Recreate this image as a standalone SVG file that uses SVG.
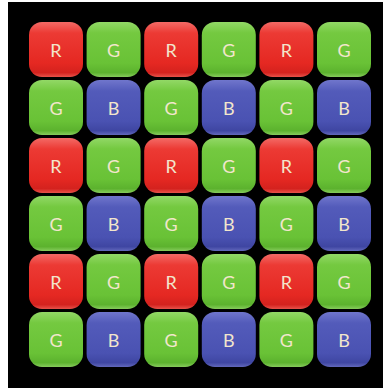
<svg xmlns="http://www.w3.org/2000/svg" width="383" height="388" viewBox="0 0 383 388">
<defs>
<linearGradient id="gR" x1="0" y1="0" x2="0" y2="1">
<stop offset="0" stop-color="#f36a66"/><stop offset="0.2" stop-color="#ec3a34"/><stop offset="0.75" stop-color="#e52822"/><stop offset="0.92" stop-color="#d4221e"/><stop offset="1" stop-color="#e8524a"/>
</linearGradient>
<linearGradient id="gG" x1="0" y1="0" x2="0" y2="1">
<stop offset="0" stop-color="#92d866"/><stop offset="0.2" stop-color="#74c940"/><stop offset="0.75" stop-color="#69c236"/><stop offset="0.92" stop-color="#5cb22e"/><stop offset="1" stop-color="#86cc5c"/>
</linearGradient>
<linearGradient id="gB" x1="0" y1="0" x2="0" y2="1">
<stop offset="0" stop-color="#7076cc"/><stop offset="0.2" stop-color="#535bba"/><stop offset="0.75" stop-color="#4a52b2"/><stop offset="0.92" stop-color="#3f46a2"/><stop offset="1" stop-color="#6268bc"/>
</linearGradient>
</defs>
<style>
.R rect{fill:url(#gR);}
.G rect{fill:url(#gG);}
.B rect{fill:url(#gB);}
text{font-family:Lato,"DejaVu Sans",sans-serif;font-weight:400;font-size:18px;fill:#f2e6cc;text-anchor:middle;dominant-baseline:central;}
</style>
<rect x="0" y="0" width="383" height="388" fill="#ffffff"/>
<rect x="8" y="2" width="375" height="386" fill="#000000"/>
<g id="connectors"/>
<g id="r1c1" class="R"><rect x="29" y="22" width="54" height="55" rx="13"/><text x="56" y="49.5">R</text></g>
<g id="r1c2" class="G"><rect x="86.6" y="22" width="54" height="55" rx="13"/><text x="113.6" y="49.5">G</text></g>
<g id="r1c3" class="R"><rect x="144.2" y="22" width="54" height="55" rx="13"/><text x="171.2" y="49.5">R</text></g>
<g id="r1c4" class="G"><rect x="201.8" y="22" width="54" height="55" rx="13"/><text x="228.8" y="49.5">G</text></g>
<g id="r1c5" class="R"><rect x="259.4" y="22" width="54" height="55" rx="13"/><text x="286.4" y="49.5">R</text></g>
<g id="r1c6" class="G"><rect x="317" y="22" width="54" height="55" rx="13"/><text x="344" y="49.5">G</text></g>

<g id="r2c1" class="G"><rect x="29" y="80" width="54" height="55" rx="13"/><text x="56" y="107.5">G</text></g>
<g id="r2c2" class="B"><rect x="86.6" y="80" width="54" height="55" rx="13"/><text x="113.6" y="107.5">B</text></g>
<g id="r2c3" class="G"><rect x="144.2" y="80" width="54" height="55" rx="13"/><text x="171.2" y="107.5">G</text></g>
<g id="r2c4" class="B"><rect x="201.8" y="80" width="54" height="55" rx="13"/><text x="228.8" y="107.5">B</text></g>
<g id="r2c5" class="G"><rect x="259.4" y="80" width="54" height="55" rx="13"/><text x="286.4" y="107.5">G</text></g>
<g id="r2c6" class="B"><rect x="317" y="80" width="54" height="55" rx="13"/><text x="344" y="107.5">B</text></g>

<g id="r3c1" class="R"><rect x="29" y="138" width="54" height="55" rx="13"/><text x="56" y="165.5">R</text></g>
<g id="r3c2" class="G"><rect x="86.6" y="138" width="54" height="55" rx="13"/><text x="113.6" y="165.5">G</text></g>
<g id="r3c3" class="R"><rect x="144.2" y="138" width="54" height="55" rx="13"/><text x="171.2" y="165.5">R</text></g>
<g id="r3c4" class="G"><rect x="201.8" y="138" width="54" height="55" rx="13"/><text x="228.8" y="165.5">G</text></g>
<g id="r3c5" class="R"><rect x="259.4" y="138" width="54" height="55" rx="13"/><text x="286.4" y="165.5">R</text></g>
<g id="r3c6" class="G"><rect x="317" y="138" width="54" height="55" rx="13"/><text x="344" y="165.5">G</text></g>

<g id="r4c1" class="G"><rect x="29" y="196" width="54" height="55" rx="13"/><text x="56" y="223.5">G</text></g>
<g id="r4c2" class="B"><rect x="86.6" y="196" width="54" height="55" rx="13"/><text x="113.6" y="223.5">B</text></g>
<g id="r4c3" class="G"><rect x="144.2" y="196" width="54" height="55" rx="13"/><text x="171.2" y="223.5">G</text></g>
<g id="r4c4" class="B"><rect x="201.8" y="196" width="54" height="55" rx="13"/><text x="228.8" y="223.5">B</text></g>
<g id="r4c5" class="G"><rect x="259.4" y="196" width="54" height="55" rx="13"/><text x="286.4" y="223.5">G</text></g>
<g id="r4c6" class="B"><rect x="317" y="196" width="54" height="55" rx="13"/><text x="344" y="223.5">B</text></g>

<g id="r5c1" class="R"><rect x="29" y="254" width="54" height="55" rx="13"/><text x="56" y="281.5">R</text></g>
<g id="r5c2" class="G"><rect x="86.6" y="254" width="54" height="55" rx="13"/><text x="113.6" y="281.5">G</text></g>
<g id="r5c3" class="R"><rect x="144.2" y="254" width="54" height="55" rx="13"/><text x="171.2" y="281.5">R</text></g>
<g id="r5c4" class="G"><rect x="201.8" y="254" width="54" height="55" rx="13"/><text x="228.8" y="281.5">G</text></g>
<g id="r5c5" class="R"><rect x="259.4" y="254" width="54" height="55" rx="13"/><text x="286.4" y="281.5">R</text></g>
<g id="r5c6" class="G"><rect x="317" y="254" width="54" height="55" rx="13"/><text x="344" y="281.5">G</text></g>

<g id="r6c1" class="G"><rect x="29" y="312" width="54" height="55" rx="13"/><text x="56" y="339.5">G</text></g>
<g id="r6c2" class="B"><rect x="86.6" y="312" width="54" height="55" rx="13"/><text x="113.6" y="339.5">B</text></g>
<g id="r6c3" class="G"><rect x="144.2" y="312" width="54" height="55" rx="13"/><text x="171.2" y="339.5">G</text></g>
<g id="r6c4" class="B"><rect x="201.8" y="312" width="54" height="55" rx="13"/><text x="228.8" y="339.5">B</text></g>
<g id="r6c5" class="G"><rect x="259.4" y="312" width="54" height="55" rx="13"/><text x="286.4" y="339.5">G</text></g>
<g id="r6c6" class="B"><rect x="317" y="312" width="54" height="55" rx="13"/><text x="344" y="339.5">B</text></g>
</svg>
